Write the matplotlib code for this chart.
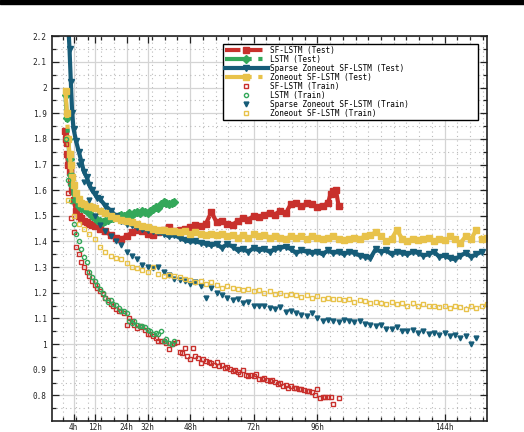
import numpy as np
import matplotlib
matplotlib.use('Agg')
import matplotlib.pyplot as plt
from matplotlib.patches import Rectangle

# colours
c_red = '#c8302c'
c_green = '#34a85a'
c_blue = '#165c78'
c_yellow = '#e8c24a'

# ---- test curves (hours, loss) ----
sf_test_t = [0.7, 1, 1.5, 2, 2.5, 3, 3.5, 4, 5, 6, 7, 8, 9, 10, 11, 12, 14, 16, 18, 20,
             22, 24, 26, 28, 30, 32, 34, 36, 38, 40, 42, 44, 46, 48, 50, 52, 54, 56, 58, 60,
             62, 64, 66, 68, 70, 72, 74, 76, 78, 80, 82, 84, 86, 88, 90, 92, 94, 96, 98, 100,
             101, 102, 103, 104]
sf_test = [1.83, 1.80, 1.74, 1.70, 1.67, 1.63, 1.60, 1.56, 1.52, 1.50, 1.49, 1.48, 1.475, 1.47, 1.465, 1.46, 1.45, 1.44, 1.425, 1.415,
           1.41, 1.42, 1.435, 1.445, 1.44, 1.43, 1.425, 1.435, 1.445, 1.455, 1.44, 1.445, 1.45, 1.455, 1.465, 1.46, 1.47, 1.515, 1.475, 1.48,
           1.47, 1.465, 1.48, 1.49, 1.485, 1.50, 1.495, 1.505, 1.51, 1.505, 1.52, 1.51, 1.545, 1.55, 1.54, 1.55, 1.545, 1.535, 1.54, 1.55,
           1.585, 1.595, 1.60, 1.54]

lstm_test_t = [1, 1.5, 2, 2.5, 3, 3.5, 4, 5, 6, 7, 8, 9, 10, 11, 12, 13, 14, 15, 16, 17,
               18, 19, 20, 21, 22, 23, 24, 25, 26, 27, 28, 29, 30, 31, 32, 33, 34, 35, 36, 37,
               38, 39, 40, 41, 42]
lstm_test = [1.97, 1.88, 1.80, 1.72, 1.66, 1.62, 1.59, 1.56, 1.54, 1.53, 1.525, 1.52, 1.51, 1.50, 1.49, 1.485, 1.48, 1.475, 1.48, 1.485,
             1.49, 1.49, 1.495, 1.50, 1.505, 1.50, 1.505, 1.51, 1.505, 1.51, 1.515, 1.51, 1.52, 1.515, 1.51, 1.52, 1.525, 1.535, 1.53, 1.545,
             1.555, 1.55, 1.545, 1.55, 1.555]

szo_test_t = [2, 2.5, 3, 3.5, 4, 5, 6, 7, 8, 9, 10, 11, 12, 13, 14, 16, 18, 20, 22, 24,
              26, 28, 30, 32, 34, 36, 38, 40, 42, 44, 46, 48, 50, 52, 54, 56, 58, 60, 62, 64,
              66, 68, 70, 72, 74, 76, 78, 80, 82, 84, 86, 88, 90, 92, 94, 96, 98, 100, 102, 104,
              106, 108, 110, 112, 114, 116, 118, 120, 122, 124, 126, 128, 130, 132, 134, 136, 138, 140, 142, 144,
              146, 148, 150, 152, 154, 156, 158]
szo_test = [2.25, 2.15, 2.02, 1.90, 1.84, 1.79, 1.75, 1.71, 1.67, 1.65, 1.62, 1.60, 1.585, 1.57, 1.565, 1.54, 1.52, 1.50, 1.48, 1.47,
            1.465, 1.455, 1.45, 1.445, 1.44, 1.435, 1.43, 1.42, 1.425, 1.415, 1.405, 1.40, 1.40, 1.395, 1.39, 1.385, 1.39, 1.375, 1.39, 1.38,
            1.365, 1.37, 1.36, 1.375, 1.365, 1.37, 1.36, 1.37, 1.375, 1.38, 1.37, 1.355, 1.365, 1.36, 1.355, 1.36, 1.35, 1.365, 1.355, 1.36,
            1.35, 1.36, 1.355, 1.345, 1.34, 1.335, 1.37, 1.36, 1.365, 1.35, 1.36, 1.355, 1.35, 1.36, 1.355, 1.345, 1.35, 1.36, 1.34, 1.345,
            1.335, 1.33, 1.345, 1.355, 1.34, 1.35, 1.36]

zo_test_t = [1, 1.5, 2, 2.5, 3, 3.5, 4, 5, 6, 7, 8, 9, 10, 11, 12, 14, 16, 18, 20, 22,
             24, 26, 28, 30, 32, 34, 36, 38, 40, 42, 44, 46, 48, 50, 52, 54, 56, 58, 60, 62,
             64, 66, 68, 70, 72, 74, 76, 78, 80, 82, 84, 86, 88, 90, 92, 94, 96, 98, 100, 102,
             104, 106, 108, 110, 112, 114, 116, 118, 120, 122, 124, 126, 128, 130, 132, 134, 136, 138, 140, 142,
             144, 146, 148, 150, 152, 154, 156, 158, 160]
zo_test = [1.985, 1.90, 1.80, 1.74, 1.70, 1.65, 1.62, 1.59, 1.565, 1.55, 1.545, 1.54, 1.54, 1.535, 1.53, 1.52, 1.51, 1.50, 1.49, 1.485,
           1.48, 1.475, 1.47, 1.46, 1.455, 1.45, 1.445, 1.445, 1.44, 1.44, 1.435, 1.44, 1.43, 1.435, 1.43, 1.425, 1.43, 1.425, 1.43, 1.42,
           1.425, 1.415, 1.425, 1.415, 1.43, 1.42, 1.425, 1.415, 1.42, 1.415, 1.41, 1.42, 1.415, 1.42, 1.41, 1.42, 1.415, 1.41, 1.415, 1.42,
           1.41, 1.405, 1.41, 1.415, 1.41, 1.42, 1.425, 1.435, 1.42, 1.40, 1.41, 1.445, 1.41, 1.40, 1.41, 1.405, 1.41, 1.415, 1.40, 1.41,
           1.405, 1.42, 1.41, 1.395, 1.42, 1.41, 1.445, 1.41, 1.415]

# ---- train points ----
sf_train_t = [1, 2, 3, 4, 5, 6, 7, 8, 9, 10, 11, 12, 13, 14, 15, 16, 17, 18, 19, 20,
              21, 22, 23, 24, 25, 26, 27, 28, 29, 30, 31, 32, 33, 34, 35, 36, 37, 38, 39, 40,
              41, 42, 43, 44, 45, 46, 47, 48, 49, 50, 51, 52, 53, 54, 55, 56, 57, 58, 59, 60,
              61, 62, 63, 64, 65, 66, 67, 68, 69, 70, 71, 72, 73, 74, 75, 76, 77, 78, 79, 80,
              81, 82, 83, 84, 85, 86, 87, 88, 89, 90, 91, 92, 93, 94, 95, 96, 97, 98, 99, 100,
              101, 102, 104]
sf_train = [1.78, 1.59, 1.49, 1.435, 1.38, 1.35, 1.32, 1.30, 1.28, 1.265, 1.245, 1.23, 1.22, 1.205, 1.195, 1.18, 1.17, 1.157, 1.15, 1.138,
            1.127, 1.13, 1.122, 1.076, 1.10, 1.09, 1.075, 1.064, 1.07, 1.065, 1.053, 1.038, 1.04, 1.03, 1.025, 1.012, 1.01, 1.01, 1.006, 0.98,
            1.0, 1.005, 1.008, 0.97, 0.967, 0.985, 0.955, 0.94, 0.985, 0.955, 0.947, 0.925, 0.94, 0.934, 0.93, 0.928, 0.918, 0.93, 0.915, 0.918,
            0.905, 0.91, 0.902, 0.895, 0.90, 0.89, 0.885, 0.897, 0.88, 0.876, 0.88, 0.875, 0.885, 0.865, 0.863, 0.866, 0.858, 0.856, 0.86, 0.852,
            0.843, 0.85, 0.838, 0.84, 0.83, 0.836, 0.828, 0.83, 0.824, 0.826, 0.82, 0.818, 0.817, 0.812, 0.80, 0.824, 0.79, 0.795, 0.795, 0.795,
            0.795, 0.768, 0.79]

lstm_train_t = [1, 2, 3, 4, 5, 6, 7, 8, 9, 10, 11, 12, 13, 14, 15, 16, 17, 18, 19, 20,
                21, 22, 23, 24, 25, 26, 27, 28, 29, 30, 31, 32, 33, 34, 35, 36, 37, 38, 39, 40,
                41, 42]
lstm_train = [1.80, 1.64, 1.556, 1.47, 1.43, 1.40, 1.37, 1.34, 1.32, 1.28, 1.26, 1.245, 1.23, 1.215, 1.20, 1.18, 1.163, 1.17, 1.155, 1.154,
              1.14, 1.13, 1.127, 1.12, 1.09, 1.083, 1.09, 1.075, 1.07, 1.07, 1.065, 1.055, 1.05, 1.04, 1.045, 1.04, 1.05, 1.012, 1.02, 1.005,
              1.0, 1.01]

szo_train_t = [6, 8, 10, 12, 14, 16, 18, 20, 22, 24, 26, 28, 30, 32, 34, 36, 38, 40, 42, 44,
               46, 48, 50, 52, 54, 56, 58, 60, 62, 64, 66, 68, 70, 72, 74, 76, 78, 80, 82, 84,
               86, 88, 90, 92, 94, 96, 98, 100, 102, 104, 106, 108, 110, 112, 114, 116, 118, 120, 122, 124,
               126, 128, 130, 132, 134, 136, 138, 140, 142, 144, 146, 148, 150, 152, 154, 156]
szo_train = [1.70, 1.63, 1.56, 1.50, 1.465, 1.44, 1.42, 1.40, 1.385, 1.36, 1.345, 1.33, 1.31, 1.30, 1.295, 1.30, 1.28, 1.27, 1.255, 1.25,
             1.245, 1.235, 1.24, 1.225, 1.18, 1.22, 1.20, 1.19, 1.18, 1.17, 1.175, 1.16, 1.165, 1.15, 1.148, 1.15, 1.14, 1.135, 1.145, 1.125,
             1.13, 1.12, 1.115, 1.11, 1.12, 1.10, 1.09, 1.095, 1.09, 1.085, 1.095, 1.09, 1.085, 1.09, 1.08, 1.075, 1.07, 1.075, 1.06, 1.057,
             1.065, 1.05, 1.05, 1.055, 1.045, 1.05, 1.04, 1.045, 1.035, 1.044, 1.03, 1.035, 1.025, 1.03, 1.0, 1.025]

zo_train_t = [2, 4, 6, 8, 10, 12, 14, 16, 18, 20, 22, 24, 26, 28, 30, 32, 34, 36, 38, 40,
              42, 44, 46, 48, 50, 52, 54, 56, 58, 60, 62, 64, 66, 68, 70, 72, 74, 76, 78, 80,
              82, 84, 86, 88, 90, 92, 94, 96, 98, 100, 102, 104, 106, 108, 110, 112, 114, 116, 118, 120,
              122, 124, 126, 128, 130, 132, 134, 136, 138, 140, 142, 144, 146, 148, 150, 152, 154, 156, 158, 160]
zo_train = [1.56, 1.50, 1.47, 1.45, 1.43, 1.41, 1.38, 1.36, 1.345, 1.335, 1.33, 1.315, 1.30, 1.295, 1.29, 1.28, 1.30, 1.275, 1.265, 1.27,
            1.265, 1.26, 1.255, 1.25, 1.24, 1.245, 1.235, 1.24, 1.23, 1.22, 1.225, 1.22, 1.215, 1.21, 1.213, 1.205, 1.21, 1.20, 1.205, 1.195,
            1.20, 1.19, 1.195, 1.19, 1.185, 1.19, 1.18, 1.187, 1.175, 1.18, 1.174, 1.175, 1.17, 1.174, 1.165, 1.17, 1.167, 1.16, 1.165, 1.161,
            1.155, 1.165, 1.155, 1.16, 1.15, 1.16, 1.15, 1.155, 1.148, 1.15, 1.145, 1.148, 1.14, 1.15, 1.145, 1.135, 1.148, 1.14, 1.15, 1.155]

# ticks
xtick_pos = [4, 12, 24, 32, 48, 72, 96, 144]
xtick_lab = ['4h', '12h', '24h', '32h', '48h', '72h', '96h', '144h']

plt.rcParams['font.family'] = ['DejaVu Sans Mono']
plt.rcParams['font.size'] = 5.6

fig = plt.figure(figsize=(5.24, 4.32), dpi=100)
ax = fig.add_axes([0.0998, 0.0255, 0.8296, 0.8905])

ax.plot(sf_test_t, sf_test, color=c_red, ls='--', lw=3, marker='s', ms=4,
        label='SF-LSTM (Test)')
ax.plot(lstm_test_t, lstm_test, color=c_green, ls='-.', lw=3, marker='D', ms=4,
        label='LSTM (Test)')
ax.plot(szo_test_t, szo_test, color=c_blue, ls='-', lw=3, marker='v', ms=4.5,
        label='Sparse Zoneout SF-LSTM (Test)')
ax.plot(zo_test_t, zo_test, color=c_yellow, ls='-.', lw=3, marker='s', ms=4,
        label='Zoneout SF-LSTM (Test)')
ax.plot(sf_train_t, sf_train, ls='none', marker='s', ms=3, mfc='none', mec=c_red, mew=1,
        label='SF-LSTM (Train)')
ax.plot(lstm_train_t, lstm_train, ls='none', marker='o', ms=3, mfc='none', mec=c_green, mew=1,
        label='LSTM (Train)')
ax.plot(szo_train_t, szo_train, ls='none', marker='v', ms=3.5, color=c_blue,
        label='Sparse Zoneout SF-LSTM (Train)')
ax.plot(zo_train_t, zo_train, ls='none', marker='s', ms=3, mfc='none', mec=c_yellow, mew=1,
        label='Zoneout SF-LSTM (Train)')

ax.set_xlim(-4, 160)
ax.set_ylim(0.7, 2.2)

ax.set_xticks(xtick_pos)
ax.set_xticklabels(xtick_lab)
ax.set_xticks(np.arange(0, 160, 4.8), minor=True)
ax.set_yticks(np.arange(0.8, 2.21, 0.1))
ax.set_yticklabels(['%g' % round(v, 1) for v in np.arange(0.8, 2.21, 0.1)])
ax.set_yticks(np.arange(0.75, 2.2, 0.1), minor=True)

ax.grid(True, which='major', color='#d4d4d4', lw=0.9, ls='-')
ax.grid(True, which='minor', color='#bbbbbb', lw=0.8, ls=(0, (1, 3)))
ax.set_axisbelow(True)

ax.tick_params(which='both', direction='in', top=True, right=True, colors='#222222')
ax.tick_params(which='major', length=5, width=0.9)
ax.tick_params(which='minor', length=3, width=0.9)
ax.tick_params(axis='y', pad=4)
ax.tick_params(axis='x', pad=1.5)
for s in ax.spines.values():
    s.set_linewidth(1.2)
    s.set_color('#222222')

leg = ax.legend(loc='upper left', bbox_to_anchor=(0.3927, 0.98, 0.5866, 0.0),
                mode='expand', fontsize=5.6, handlelength=5.5, numpoints=1,
                fancybox=False, framealpha=1, edgecolor='black', borderpad=0.25,
                labelspacing=0.0, handletextpad=0.3, borderaxespad=0)
leg.get_frame().set_linewidth(1.0)

fig.patches.append(Rectangle((0, 1 - 4 / 432), 1, 4 / 432, transform=fig.transFigure,
                             color='black', zorder=10))

fig.savefig('out.png', dpi=100)
